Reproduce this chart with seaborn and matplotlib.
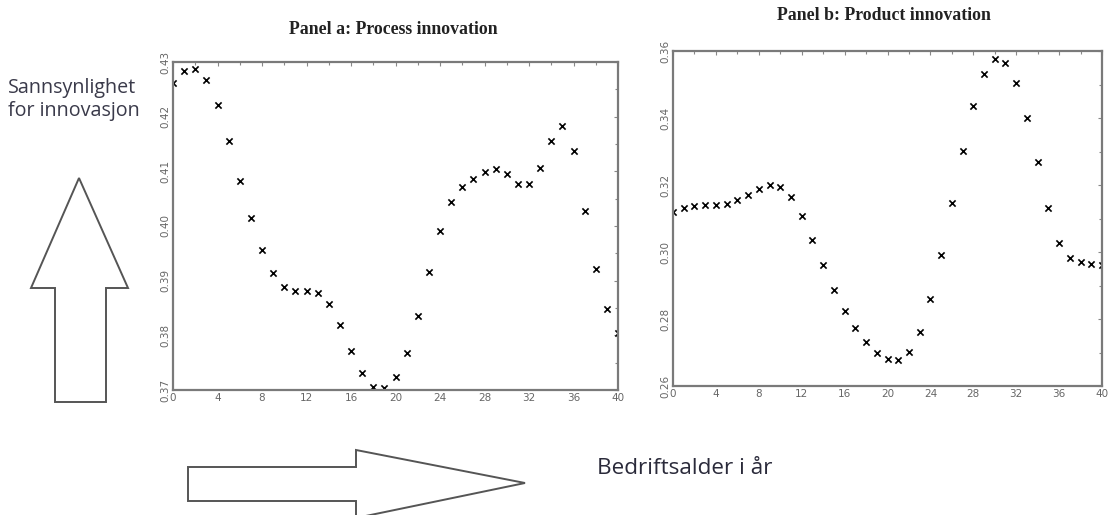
import numpy as np
import pandas as pd
import matplotlib
matplotlib.use("Agg")
import matplotlib.pyplot as plt
from matplotlib.patches import Polygon
import seaborn as sns

# Bedriftsalder (år)
age = list(range(0, 41))

# Panel a: prosessinnovasjon
process = [0.4262, 0.4284, 0.4288, 0.4267, 0.4221, 0.4156, 0.4083, 0.4014, 0.3957, 0.3914,
           0.3889, 0.3882, 0.3882, 0.3877, 0.3858, 0.3819, 0.3771, 0.3731, 0.3705, 0.3703,
           0.3723, 0.3768, 0.3836, 0.3916, 0.3990, 0.4043, 0.4071, 0.4086, 0.4098, 0.4104,
           0.4095, 0.4077, 0.4077, 0.4106, 0.4155, 0.4183, 0.4138, 0.4028, 0.3921, 0.3849,
           0.3804]

# Panel b: produktinnovasjon
product = [0.3120, 0.3130, 0.3138, 0.3140, 0.3140, 0.3144, 0.3154, 0.3170, 0.3188, 0.3199,
           0.3193, 0.3163, 0.3108, 0.3037, 0.2961, 0.2887, 0.2824, 0.2772, 0.2732, 0.2700,
           0.2680, 0.2678, 0.2702, 0.2762, 0.2860, 0.2991, 0.3146, 0.3301, 0.3435, 0.3531,
           0.3575, 0.3564, 0.3503, 0.3400, 0.3269, 0.3131, 0.3028, 0.2983, 0.2970, 0.2965,
           0.2961]

df = pd.DataFrame({"age": age, "process": process, "product": product})

sns.set_style("white")
plt.rcParams["font.family"] = ["DejaVu Sans"]

W, H = 1110, 515
fig = plt.figure(figsize=(W / 100, H / 100), dpi=100)


def px_axes(x0, y0, x1, y1):
    return fig.add_axes([x0 / W, 1 - y1 / H, (x1 - x0) / W, (y1 - y0) / H])


ax_a = px_axes(173, 62, 618, 390)
ax_b = px_axes(673, 51, 1102, 386)

panels = [
    (ax_a, "process", (0.37, 0.43), np.arange(0.37, 0.4301, 0.01),
     "Panel a: Process innovation", 393, 30),
    (ax_b, "product", (0.26, 0.36), np.arange(0.26, 0.3601, 0.02),
     "Panel b: Product innovation", 884, 16),
]

for ax, col, ylim, yt, title, tx, ty in panels:
    sns.scatterplot(data=df, x="age", y=col, ax=ax, marker="x", s=20,
                    color="black", linewidth=1.2, legend=False)
    ax.set_xlim(0, 40)
    ax.set_ylim(*ylim)
    ax.set_xticks(range(0, 41, 4))
    ax.set_xticks(range(0, 41, 2), minor=True)
    ax.set_yticks(yt)
    step = yt[1] - yt[0]
    ax.set_yticks(np.arange(ylim[0], ylim[1] + 1e-6, step / 2), minor=True)
    ax.set_yticklabels(["%.2f" % v for v in yt], rotation=90, va="center")
    ax.set_xlabel("")
    ax.set_ylabel("")
    ax.tick_params(which="both", direction="in", top=True, right=True,
                   color="#888888", labelsize=7.5, labelcolor="#666666", pad=2)
    ax.tick_params(which="major", length=3, width=0.8)
    ax.tick_params(which="minor", length=2, width=0.8)
    for sp in ax.spines.values():
        sp.set_color("#7a7a7a")
        sp.set_linewidth(1.6)
    fig.text(tx / W, 1 - ty / H, title, ha="center", va="center",
             fontsize=12.8, fontweight="bold", family=["Liberation Serif"],
             color="#222222")

# Forklarende tekst
fig.text(8 / W, 1 - 88 / H, "Sannsynlighet", ha="left", va="center",
         fontsize=14.2, family=["Open Sans"], color="#3a3a4a")
fig.text(8 / W, 1 - 111 / H, "for innovasjon", ha="left", va="center",
         fontsize=14.2, family=["Open Sans"], color="#3a3a4a")
fig.text(597 / W, 1 - 468 / H, "Bedriftsalder i år", ha="left", va="center",
         fontsize=16.2, family=["Open Sans"], color="#2a2a3a")

# Pil opp
up = [(79, 178), (128, 288), (106, 288), (106, 402), (55, 402), (55, 288), (31, 288)]
# Pil til høyre
right = [(188, 467), (356, 467), (356, 450), (525, 483), (356, 518), (356, 501), (188, 501)]
for pts in (up, right):
    poly = Polygon([(x / W, 1 - y / H) for x, y in pts], closed=True,
                   transform=fig.transFigure, facecolor="white",
                   edgecolor="#555555", linewidth=1.4, clip_on=False)
    fig.patches.append(poly)

fig.savefig("out.png", dpi=100)
